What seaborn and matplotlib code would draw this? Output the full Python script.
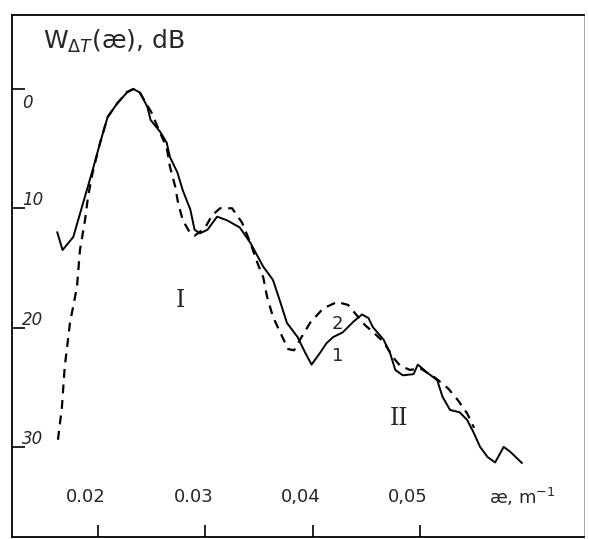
import numpy as np
import pandas as pd
import matplotlib
matplotlib.use("Agg")
import matplotlib.pyplot as plt
import matplotlib.transforms as mtransforms
import seaborn as sns

# ---- data ----
x1 = [0.0162, 0.0167, 0.0177, 0.0186, 0.0195, 0.0202, 0.0209, 0.0218, 0.0227, 0.0233,
      0.0239, 0.0246, 0.0249, 0.0258, 0.0264, 0.0267, 0.0274, 0.0279, 0.0286, 0.0290,
      0.0295, 0.0302, 0.0311, 0.0320, 0.0332, 0.0342, 0.0354, 0.0363, 0.0370, 0.0376,
      0.0386, 0.0393, 0.0399, 0.0407, 0.0413, 0.0419, 0.0428, 0.0438, 0.0446, 0.0452,
      0.0456, 0.0466, 0.0472, 0.0477, 0.0484, 0.0494, 0.0498, 0.0507, 0.0516, 0.0521,
      0.0528, 0.0537, 0.0544, 0.0550, 0.0556, 0.0563, 0.0570, 0.0578, 0.0584, 0.0595]
y1 = [-12.0, -13.5, -12.4, -9.6, -6.8, -4.5, -2.35, -1.2, -0.3, 0.0,
      -0.3, -1.5, -2.6, -3.6, -4.5, -5.7, -7.0, -8.5, -10.1, -11.8,
      -12.1, -11.8, -10.7, -11.0, -11.6, -12.9, -14.9, -16.0, -17.9, -19.6,
      -20.8, -22.1, -23.1, -22.1, -21.3, -20.8, -20.4, -19.5, -18.9, -19.2,
      -19.95, -21.0, -22.1, -23.55, -24.0, -23.9, -23.1, -23.8, -24.4, -25.8,
      -26.9, -27.1, -27.75, -28.8, -30.0, -30.85, -31.3, -30.0, -30.4, -31.35]

x2 = [0.01627, 0.01664, 0.0169, 0.01739, 0.01804, 0.01832, 0.01879, 0.01907, 0.0195, 0.0202,
      0.0209, 0.0218, 0.0227, 0.0233, 0.0239, 0.0250, 0.0258, 0.0264, 0.0267, 0.0272,
      0.02746, 0.0279, 0.0286, 0.0290, 0.02997, 0.03062, 0.03137, 0.03249, 0.03342, 0.0342,
      0.03482, 0.0354, 0.03575, 0.0363, 0.0370, 0.03771, 0.03827, 0.03883, 0.03976, 0.04097,
      0.04228, 0.0433, 0.04395, 0.04489, 0.04572, 0.0466, 0.0475, 0.04815, 0.04908, 0.0500,
      0.05141, 0.05262, 0.05355, 0.0544, 0.05504]
y2 = [-29.4, -26.65, -23.3, -19.6, -16.6, -13.5, -11.0, -9.05, -7.0, -4.5,
      -2.35, -1.2, -0.25, 0.0, -0.3, -2.0, -3.7, -4.9, -6.5, -8.2,
      -9.55, -11.0, -12.1, -12.3, -11.65, -10.6, -10.0, -10.0, -11.2, -12.9,
      -14.5, -15.8, -17.4, -19.1, -20.45, -21.8, -21.9, -21.0, -19.6, -18.4,
      -17.85, -18.1, -18.8, -19.8, -20.45, -21.2, -22.5, -23.2, -23.55, -23.4,
      -24.2, -25.1, -26.1, -27.2, -28.4]

xticks = [0.02, 0.03, 0.04, 0.05]
xtick_labels = ["0.02", "0.03", "0,04", "0,05"]
yticks = [0, -10, -20, -30]
ytick_labels = ["0", "10", "20", "30"]
title_text = r"W$_{\Delta T}$(æ), dB"
xunit_text = r"æ, m$^{-1}$"
curve_labels = ["1", "2"]
region_labels = ["I", "II"]

df1 = pd.DataFrame({"x": x1, "y": y1})
df2 = pd.DataFrame({"x": x2, "y": y2})

sns.set_theme(style="white")
plt.rcParams["font.family"] = ["DejaVu Sans"]

fig = plt.figure(figsize=(5.89, 5.39), dpi=100)
ax = fig.add_axes([0.0204, 0.0037, 0.9711, 0.9685])

sns.lineplot(data=df1, x="x", y="y", sort=False, ax=ax, color="black", lw=1.4)
sns.lineplot(data=df2, x="x", y="y", sort=False, ax=ax, color="black", lw=1.6,
             linestyle=(0, (4.0, 3.0)))

ax.set_xlim(0.01199, 0.06528)
ax.set_ylim(-37.55, 6.2)
ax.set_xlabel("")
ax.set_ylabel("")

for s in ax.spines.values():
    s.set_color("black")
    s.set_linewidth(1.3)
ax.spines["right"].set_linewidth(0.6)
ax.spines["right"].set_color("#999999")

ax.set_xticks(xticks)
ax.set_yticks(yticks)
ax.set_xticklabels([])
ax.set_yticklabels([])
ax.tick_params(axis="both", direction="in", length=9, width=1.2, color="black",
               bottom=True, left=True)

tx = mtransforms.blended_transform_factory(ax.transData, ax.transAxes)
for xv, lab in zip(xticks, xtick_labels):
    t = mtransforms.offset_copy(tx, fig=fig, x=-12, y=0, units="dots")
    ax.text(xv, 0.077, lab, transform=t, ha="center", va="center", fontsize=13)
ax.text(0.0595, 0.077, xunit_text, transform=tx, ha="center", va="center", fontsize=13)

ty = mtransforms.blended_transform_factory(ax.transAxes, ax.transData)
for yv, lab in zip(yticks, ytick_labels):
    t = mtransforms.offset_copy(ty, fig=fig, x=0, y=8 if yv != 0 else -14, units="dots")
    ax.text(0.017, yv, lab, transform=t, ha="left", va="center", fontsize=12,
            style="italic")

ax.text(0.054, 0.935, title_text, transform=ax.transAxes, ha="left", va="baseline",
        fontsize=18)

ax.text(0.04228, -19.7, curve_labels[1], ha="center", va="center", fontsize=13)
ax.text(0.04230, -22.4, curve_labels[0], ha="center", va="center", fontsize=13)
ax.text(0.0277, -17.7, region_labels[0], ha="center", va="center", fontsize=17,
        family="DejaVu Serif")
ax.text(0.0480, -27.6, region_labels[1], ha="center", va="center", fontsize=17,
        family="DejaVu Serif")

fig.savefig("out.png", dpi=100)
